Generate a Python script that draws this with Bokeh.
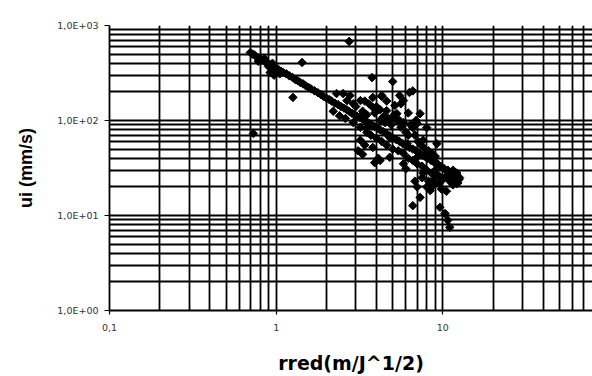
from bokeh.plotting import figure
from bokeh.models import FixedTicker, CustomJSTickFormatter, Range1d
from bokeh.embed import file_html
from bokeh.resources import INLINE

# ---- data ----
band_x = [0.70, 0.72, 0.74, 0.76, 0.78, 0.80, 0.82, 0.85, 0.88, 0.90, 0.93, 0.96, 1.00, 1.03,
          1.07, 1.10, 1.15, 1.20, 1.25, 1.30, 1.35, 1.40, 1.45, 1.50, 1.56, 1.62, 1.70, 1.78,
          1.85, 1.92, 2.00, 2.08, 2.15, 2.25, 2.35, 2.45, 2.55, 2.65, 2.75, 2.85, 2.95, 3.05,
          3.15, 3.30, 3.45, 3.60, 3.75, 3.90, 4.05, 4.20, 4.40, 4.60, 4.80, 5.00, 5.25, 5.50,
          5.75, 6.00, 6.30, 6.60, 6.90, 7.20, 7.50, 7.80, 8.10, 8.50, 8.90, 9.30, 9.70, 10.2,
          10.7, 11.2, 11.7, 12.2, 12.6, 0.78, 0.85, 0.90, 0.95, 1.05, 0.92, 0.97, 1.00]
band_y = [520, 500, 490, 470, 455, 450, 430, 420, 405, 395, 385, 370, 355, 345,
          330, 320, 310, 295, 285, 270, 262, 250, 243, 233, 224, 215, 205, 196,
          188, 180, 172, 166, 160, 152, 147, 140, 135, 130, 124, 119, 115, 111,
          108, 103, 98, 94, 90, 86, 83, 80, 76, 72, 69, 66, 63, 60,
          57, 55, 52, 50, 48, 45, 43, 42, 40, 38, 36, 35, 33, 31,
          30, 28, 27, 26, 25, 420, 450, 370, 400, 310, 320, 300, 320]

cloud_x = [3.76, 5.0, 4.3, 6.3, 5.8, 5.15, 4.6, 3.8, 3.2, 2.77, 2.52, 7.3, 8.0, 6.6, 5.5,
           4.2, 3.5, 3.2, 3.8, 4.2, 4.8, 5.8, 7.0, 8.4, 9.2, 7.6, 6.1, 4.8, 12.1, 11.0,
           7.6, 7.0, 8.0, 7.3, 6.6, 9.6, 10.3, 10.7, 11.0, 2.3, 2.66, 3.8, 4.3, 5.5, 5.3,
           7.0, 2.2, 2.4, 2.6, 2.9, 3.1, 3.3, 3.4, 3.9, 4.1, 6.0, 2.74, 1.43, 1.26, 0.73,
           6.6, 9.0, 10.5, 11.5, 12.1, 11.0, 8.8, 9.5, 6.8, 8.4]
cloud_y = [283, 257, 179, 197, 162, 144, 127, 138, 162, 183, 192, 118, 84, 84, 100,
           100, 84, 62, 52, 38, 41, 35, 41, 41, 57, 62, 57, 66, 28, 23,
           28, 20, 20, 15.5, 12.7, 12.2, 10.5, 8.9, 7.5, 192, 162, 175, 183, 183, 118,
           93, 125, 112, 105, 95, 48, 44, 55, 36, 40, 31, 680, 408, 175, 73,
           205, 30, 26, 30, 21.7, 24, 24, 22, 23, 18.3]

dense_x = [3.0, 3.3, 3.5, 3.6, 3.9, 4.0, 4.2, 4.4, 4.5, 4.7, 4.9, 5.1, 5.3, 5.6, 5.8,
           6.0, 6.2, 6.4, 6.8, 7.1, 7.4, 7.8, 8.2, 8.6, 9.0, 2.9, 3.4, 4.6, 5.6, 6.2,
           6.9, 3.2, 3.5, 3.7, 4.0, 4.3, 4.6, 5.0, 5.4, 5.8, 6.2, 6.6, 7.0, 7.5, 8.0,
           8.5, 9.0, 9.5, 10.0, 7.5, 8.2, 8.8, 9.8, 10.5, 11.5, 12.3, 12.5, 11.8]
dense_y = [140, 125, 115, 150, 120, 140, 130, 110, 95, 105, 90, 115, 100, 85, 95,
           75, 70, 90, 70, 60, 55, 50, 48, 45, 42, 150, 160, 160, 150, 120,
           100, 85, 75, 70, 65, 60, 55, 50, 48, 45, 40, 38, 35, 33, 30,
           28, 27, 26, 24, 25, 23, 21, 19, 18, 21, 22, 24, 24]

x_ticks = [0.1, 1, 10]
x_minor = [0.2, 0.3, 0.4, 0.5, 0.6, 0.7, 0.8, 0.9, 2, 3, 4, 5, 6, 7, 8, 9,
           20, 30, 40, 50, 60, 70]
y_ticks = [1, 10, 100, 1000]
y_minor = [2, 3, 4, 5, 6, 7, 8, 9, 20, 30, 40, 50, 60, 70, 80, 90,
           200, 300, 400, 500, 600, 700, 800, 900]

p = figure(width=592, height=376, x_axis_type="log", y_axis_type="log",
           x_range=Range1d(0.1, 79), y_range=Range1d(1, 1000),
           output_backend="svg", toolbar_location=None,
           min_border_left=109, min_border_right=0, min_border_top=25,
           min_border_bottom=66)
p.outline_line_color = None
p.background_fill_color = "white"
p.border_fill_color = "white"

p.xaxis.ticker = FixedTicker(ticks=x_ticks, minor_ticks=x_minor)
p.yaxis.ticker = FixedTicker(ticks=y_ticks, minor_ticks=y_minor)
p.xgrid.ticker = FixedTicker(ticks=x_ticks, minor_ticks=x_minor)
p.ygrid.ticker = FixedTicker(ticks=y_ticks, minor_ticks=y_minor)

for g in (p.xgrid, p.ygrid):
    g.grid_line_color = "black"
    g.grid_line_width = 1.8
    g.minor_grid_line_color = "black"
    g.minor_grid_line_width = 1.8

p.yaxis.formatter = CustomJSTickFormatter(code="""
const e = Math.round(Math.log10(tick));
return "1,0E" + (e >= 0 ? "+" : "-") + String(Math.abs(e)).padStart(2, "0");
""")
p.xaxis.formatter = CustomJSTickFormatter(code="""
return tick < 1 ? tick.toFixed(1).replace(".", ",") : tick.toFixed(0);
""")

for ax in (p.xaxis, p.yaxis):
    ax.axis_line_color = "black"
    ax.axis_line_width = 1.8
    ax.major_tick_line_color = "black"
    ax.major_tick_line_width = 1.2
    ax.major_tick_in = 0
    ax.major_tick_out = 5
    ax.minor_tick_line_color = None
    ax.major_label_text_font = "DejaVu Sans"
    ax.major_label_text_font_size = "9.5px"
    ax.major_label_text_color = "#333333"
    ax.axis_label_text_font = "Liberation Sans"
    ax.axis_label_text_font_style = "bold"
    ax.axis_label_text_color = "black"

p.xaxis.major_tick_out = 4
p.xaxis.major_label_standoff = 9
p.yaxis.major_label_standoff = 6

p.yaxis.axis_label = "ui (mm/s)"
p.yaxis.axis_label_text_font_size = "18px"
p.yaxis.axis_label_standoff = 18

p.xaxis.axis_label = "rred(m/J^1/2)"
p.xaxis.axis_label_text_font = "DejaVu Sans"
p.xaxis.axis_label_text_font_size = "19px"
p.xaxis.axis_label_standoff = 18

p.scatter(band_x, band_y, marker="square", angle=0.785, size=6, color="black")
p.scatter(cloud_x, cloud_y, marker="square", angle=0.785, size=6, color="black")
p.scatter(dense_x, dense_y, marker="square", angle=0.785, size=6, color="black")

open("out.html", "w").write(file_html(p, INLINE))
